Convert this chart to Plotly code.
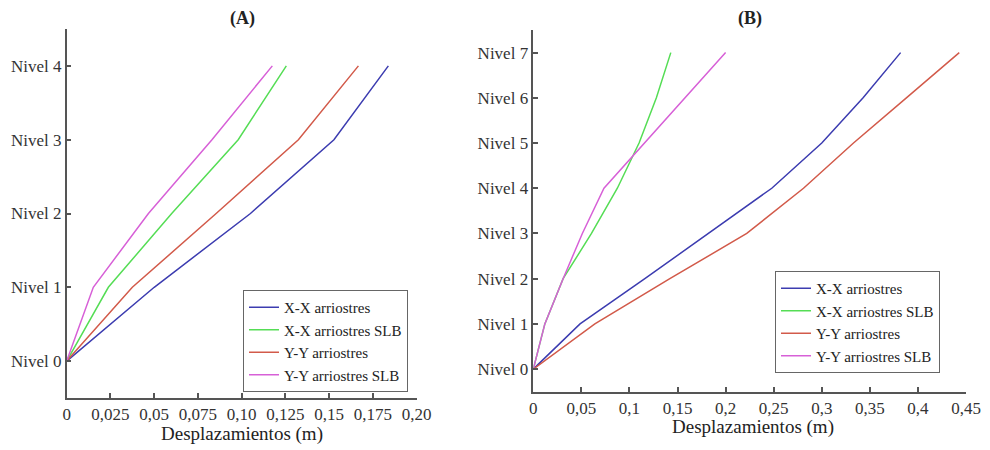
import plotly.graph_objects as go

# ---------------- data ----------------
levels_a = [0, 1, 2, 3, 4]
levels_b = [0, 1, 2, 3, 4, 5, 6, 7]

series_names = ["X-X arriostres", "X-X arriostres SLB", "Y-Y arriostres", "Y-Y arriostres SLB"]
series_colors = ["#3c3cb0", "#55dd55", "#d25a4a", "#d760d7"]

# Panel (A) displacements (m)
a_xx = [0, 0.050, 0.105, 0.1527, 0.1838]
a_xx_slb = [0, 0.0238, 0.060, 0.098, 0.1255]
a_yy = [0, 0.0375, 0.0854, 0.1324, 0.1667]
a_yy_slb = [0, 0.0152, 0.0467, 0.083, 0.1175]

# Panel (B) displacements (m)
b_xx = [0, 0.0486, 0.116, 0.182, 0.248, 0.300, 0.343, 0.382]
b_xx_slb = [0, 0.012, 0.031, 0.0605, 0.0874, 0.110, 0.128, 0.143]
b_yy = [0, 0.064, 0.142, 0.222, 0.281, 0.333, 0.388, 0.443]
b_yy_slb = [0, 0.012, 0.031, 0.051, 0.0735, 0.1155, 0.158, 0.200]

xtick_vals_a = [0, 0.025, 0.05, 0.075, 0.10, 0.125, 0.15, 0.175, 0.20]
xtick_text_a = ["0", "0,025", "0,05", "0,075", "0,10", "0,125", "0,15", "0,175", "0,20"]
xtick_vals_b = [0, 0.05, 0.1, 0.15, 0.2, 0.25, 0.3, 0.35, 0.4, 0.45]
xtick_text_b = ["0", "0,05", "0,1", "0,15", "0,2", "0,25", "0,3", "0,35", "0,4", "0,45"]
ytick_text_a = ["Nivel %d" % i for i in levels_a]
ytick_text_b = ["Nivel %d" % i for i in levels_b]

panel_titles = ["(A)", "(B)"]
axis_title = "Desplazamientos (m)"

# ---------------- figure ----------------
FONT = "Liberation Serif"
OFF = 8  # default page body margin
W, H = 990 - OFF, 450 - OFF

fig = go.Figure()
for name, col, xs in zip(series_names, series_colors, [a_xx, a_xx_slb, a_yy, a_yy_slb]):
    fig.add_trace(go.Scatter(x=xs, y=levels_a, mode="lines", name=name,
                             line=dict(color=col, width=1.5),
                             xaxis="x", yaxis="y", legend="legend"))
for name, col, xs in zip(series_names, series_colors, [b_xx, b_xx_slb, b_yy, b_yy_slb]):
    fig.add_trace(go.Scatter(x=xs, y=levels_b, mode="lines", name=name,
                             line=dict(color=col, width=1.5),
                             xaxis="x2", yaxis="y2", legend="legend2"))

def px_x(p):
    return (p - OFF) / W

def px_y(p):
    return 1 - (p - OFF) / H

axis_common = dict(showline=True, linecolor="#555555", linewidth=1.5,
                   ticks="inside", ticklen=5, tickwidth=1.5, tickcolor="#555555",
                   showgrid=False, zeroline=False, automargin=False,
                   tickfont=dict(family=FONT, size=17, color="#333333"))

legend_common = dict(xanchor="left", yanchor="top",
                     bordercolor="#666666", borderwidth=1, bgcolor="white",
                     font=dict(family=FONT, size=15, color="#222222"),
                     tracegroupgap=0, itemwidth=30)

fig.update_layout(
    width=W, height=H,
    margin=dict(l=0, r=0, t=0, b=0),
    paper_bgcolor="white", plot_bgcolor="white",
    font=dict(family=FONT, size=17, color="#333333"),
    xaxis=dict(domain=[px_x(66.7), px_x(416.7)], range=[0, 0.2], anchor="y",
               tickmode="array", tickvals=xtick_vals_a, ticktext=xtick_text_a, **axis_common),
    yaxis=dict(domain=[px_y(398), px_y(29)], range=[-0.5, 4.5], anchor="x",
               tickmode="array", tickvals=levels_a, ticktext=ytick_text_a, **axis_common),
    xaxis2=dict(domain=[px_x(533.3), px_x(966)], range=[0, 0.45], anchor="y2",
                tickmode="array", tickvals=xtick_vals_b, ticktext=xtick_text_b, **axis_common),
    yaxis2=dict(domain=[px_y(391.7), px_y(30)], range=[-0.5, 7.5], anchor="x2",
                tickmode="array", tickvals=levels_b, ticktext=ytick_text_b, **axis_common),
    legend=dict(x=px_x(243), y=px_y(290), **legend_common),
    legend2=dict(x=px_x(775), y=px_y(271), **legend_common),
    showlegend=True,
)

annots = [
    dict(text="<b>%s</b>" % panel_titles[0], x=px_x(242), y=px_y(18)),
    dict(text="<b>%s</b>" % panel_titles[1], x=px_x(750), y=px_y(18)),
    dict(text=axis_title, x=px_x(242), y=px_y(434), size=19),
    dict(text=axis_title, x=px_x(753), y=px_y(427), size=19),
]
for a in annots:
    fig.add_annotation(text=a["text"], x=a["x"], y=a["y"], xref="paper", yref="paper",
                       xanchor="center", yanchor="middle", showarrow=False,
                       font=dict(family=FONT, size=a.get("size", 18), color="#222222"))

fig.write_html("out.html")
